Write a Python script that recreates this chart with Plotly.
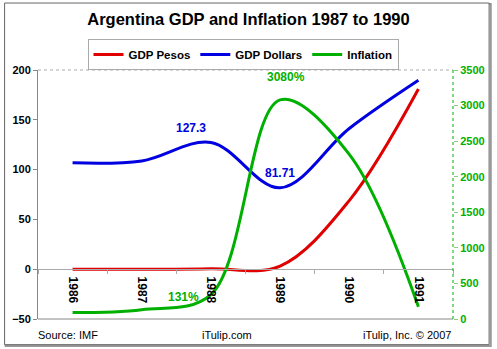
import plotly.graph_objects as go

years = ["1986", "1987", "1988", "1989", "1990", "1991"]
gdp_pesos = [0.0, 0.0, 0.5, 3.2, 68.9, 180.9]
gdp_dollars = [106.8, 108.7, 127.3, 81.71, 141.3, 189.7]
inflation = [90, 131, 343, 3080, 2314, 172]

RED = "#e00000"
BLUE = "#0000e0"
GREEN = "#00b000"
FONT = "Liberation Sans"

fig = go.Figure()
fig.add_trace(go.Scatter(x=years, y=gdp_pesos, name="GDP Pesos", mode="lines",
                         line=dict(color=RED, width=3, shape="spline", smoothing=1)))
fig.add_trace(go.Scatter(x=years, y=gdp_dollars, name="GDP Dollars", mode="lines",
                         line=dict(color=BLUE, width=3, shape="spline", smoothing=1)))
fig.add_trace(go.Scatter(x=years, y=inflation, name="Inflation", mode="lines", yaxis="y2",
                         line=dict(color=GREEN, width=3, shape="spline", smoothing=1)))


def value_label(year, series, yref, color, suffix, dx, dy):
    i = years.index(year)
    return dict(x=i, y=series[i], xref="x", yref=yref, text=f"{series[i]:g}{suffix}",
                showarrow=False, xshift=dx, yshift=dy,
                font=dict(family=FONT, size=12, color=color, weight="bold"))


annotations = [
    value_label("1988", gdp_dollars, "y", BLUE, "", -20, 14),
    value_label("1989", gdp_dollars, "y", BLUE, "", 0, 15),
    value_label("1989", inflation, "y2", GREEN, "%", 6, 23),
    value_label("1987", inflation, "y2", GREEN, "%", 42, 13),
]

# footer
for txt, x, anchor in [("Source: IMF", -0.005, "left"), ("iTulip.com", 0.455, "center"),
                       ("iTulip, Inc. © 2007", 1.0, "right")]:
    annotations.append(dict(text=txt, x=x, y=-0.065, xref="paper", yref="paper",
                            xanchor=anchor, yanchor="middle", showarrow=False,
                            font=dict(family=FONT, size=11, color="#000")))

shapes = [
    # outer frame with shadow
    dict(type="rect", xref="paper", yref="paper", x0=-0.078, x1=1.091, y0=-0.108, y1=1.265,
         line=dict(color="#999999", width=2), fillcolor="rgba(0,0,0,0)", layer="below"),
    dict(type="rect", xref="paper", yref="paper", x0=-0.0805, x1=1.087, y0=-0.103, y1=1.269,
         line=dict(color="#666666", width=1), fillcolor="white", layer="below"),
    # plot area frame
    dict(type="line", xref="paper", yref="paper", x0=0, x1=1, y0=1, y1=1,
         line=dict(color="#aaaaaa", width=1, dash="dot")),
    dict(type="line", xref="paper", yref="paper", x0=0, x1=1, y0=0, y1=0,
         line=dict(color="#888888", width=1)),
    dict(type="line", xref="paper", yref="paper", x0=1, x1=1, y0=0, y1=1,
         line=dict(color=GREEN, width=1, dash="dot")),
]

fig.update_layout(
    width=497, height=349, autosize=False,
    margin=dict(l=37, r=41, t=70, b=30),
    paper_bgcolor="white", plot_bgcolor="rgba(0,0,0,0)",
    font=dict(family=FONT, color="#000"),
    title=dict(text="Argentina GDP and Inflation 1987 to 1990", x=0.5, xref="container",
               y=0.945, yanchor="middle",
               font=dict(family=FONT, size=16.5, color="#000", weight="bold")),
    showlegend=True,
    legend=dict(orientation="h", x=0.494, xanchor="center", y=1.125, yanchor="top",
                bordercolor="#aaaaaa", borderwidth=1, bgcolor="white",
                font=dict(family=FONT, size=11.5, color="#000", weight="bold"),
                itemwidth=30, tracegroupgap=0, itemclick=False),
    xaxis=dict(type="category", range=[-0.5, 5.5], anchor="free", position=0.2,
               showline=True, linecolor="#aaaaaa", linewidth=1,
               ticks="outside", tickson="boundaries", ticklen=4, tickcolor="#aaaaaa",
               tickangle=90, ticklabelstandoff=4,
               tickfont=dict(family=FONT, size=12, color="#000", weight="bold"),
               showgrid=False, zeroline=False, fixedrange=True),
    yaxis=dict(range=[-50, 200], dtick=50, showline=True, linecolor="#888888",
               ticks="outside", ticklen=4, tickcolor="#888888",
               tickfont=dict(family=FONT, size=11, color="#000", weight="bold"),
               showgrid=False, zeroline=False),
    yaxis2=dict(range=[0, 3500], dtick=500, overlaying="y", side="right",
                ticks="outside", ticklen=4, tickcolor="#88cc88",
                tickfont=dict(family=FONT, size=11, color=GREEN, weight="bold"),
                showgrid=False, zeroline=False, showline=False),
    annotations=annotations,
    shapes=shapes,
)

fig.write_html("out.html")
